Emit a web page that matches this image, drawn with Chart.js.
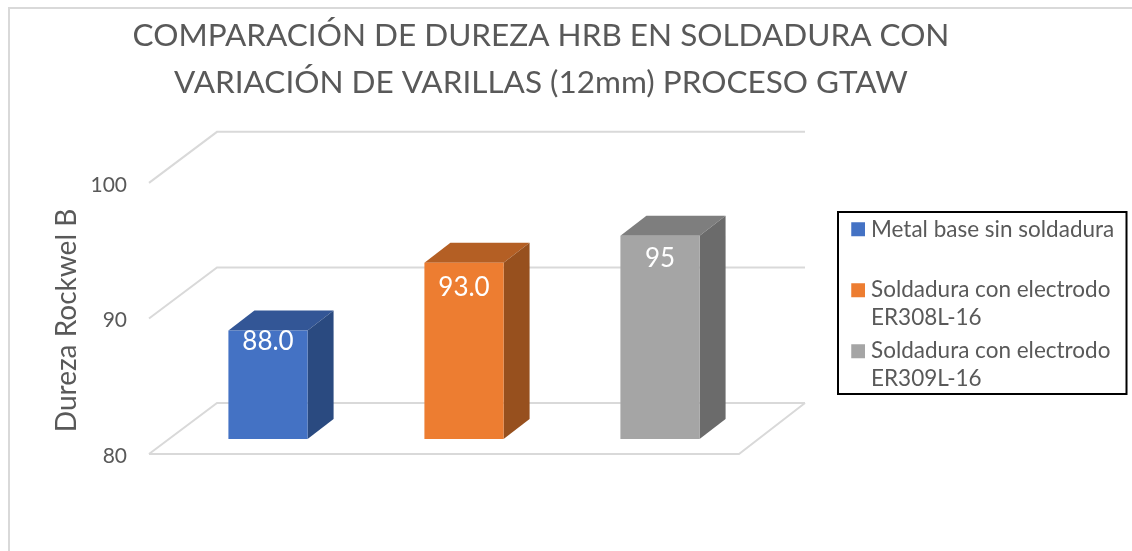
<!DOCTYPE html>
<html>
<head>
<meta charset="utf-8">
<style>
  html, body { margin: 0; padding: 0; background: #fff; overflow: hidden; }
</style>
<script src="https://cdn.jsdelivr.net/npm/chart.js@4"></script>
</head>
<body>
<canvas id="durezaChart" width="1132" height="551"></canvas>
<script>
const categories = [
    ['Metal base sin soldadura', ''],
    ['Soldadura con electrodo', 'ER308L-16'],
    ['Soldadura con electrodo', 'ER309L-16']
];
const durezaValues = [88, 93, 95];
const valueLabels = ['88.0', '93.0', '95'];
const yTicks = [80, 90, 100];
const titleLines = [
    'COMPARACIÓN DE DUREZA HRB EN SOLDADURA CON',
    'VARIACIÓN DE VARILLAS (12mm) PROCESO GTAW'
];

const frontColors = ['#4472c4', '#ed7d31', '#a5a5a5'];
const sideColors = ['#2a4a80', '#97501e', '#6b6b6b'];
const topColors = ['#335696', '#b45f24', '#7e7e7e'];

const fontName = 'Lato, sans-serif';
const textGrey = '#595959';
const gridGrey = '#d9d9d9';

function fillPoly(ctx, color, points) {
    ctx.fillStyle = color;
    ctx.beginPath();
    points.forEach((p, i) => i ? ctx.lineTo(p[0], p[1]) : ctx.moveTo(p[0], p[1]));
    ctx.closePath();
    ctx.fill();
}

function strokePath(ctx, points) {
    ctx.beginPath();
    points.forEach((p, i) => i ? ctx.lineTo(p[0], p[1]) : ctx.moveTo(p[0], p[1]));
    ctx.stroke();
}

// fake 3D: walls, floor and the side/top faces of the bars
const box3d = {
    id: 'box3d',
    beforeDraw(chart) {
        const { ctx } = chart;
        ctx.save();
        ctx.strokeStyle = gridGrey;
        ctx.lineWidth = 2;
        strokePath(ctx, [[9, 551], [9, 8], [1132, 8]]);
        ctx.restore();

        // title, legend and axis title are not placed around the plot in the reference
        chart.titleBlock.left = 0;
        chart.titleBlock.right = 1082;
        chart.legend.left = 851.25;
        chart.legend.right = 1128;
        chart.legend.top = 213;
        chart.scales.y.top = chart.chartArea.top + 34;
    },
    beforeDatasetsDraw(chart) {
        const { ctx, chartArea } = chart;
        const yScale = chart.scales.y;
        const frontLeft = chartArea.left - 21;
        const frontRight = chartArea.right - 19;
        const backLeft = frontLeft + 68;
        const backRight = frontRight + 66;
        const baseY = yScale.getPixelForValue(yTicks[0]);

        ctx.save();
        ctx.strokeStyle = gridGrey;
        ctx.lineWidth = 2;
        yTicks.forEach(tick => {
            const frontY = yScale.getPixelForValue(tick) + 15;
            const backY = frontY - 51;
            strokePath(ctx, [[frontLeft, frontY], [backLeft, backY], [backRight, backY]]);
        });
        const floorY = baseY + 15;
        strokePath(ctx, [[frontLeft, floorY], [frontRight, floorY], [backRight, floorY - 51]]);

        chart.getDatasetMeta(0).data.forEach((bar, i) => {
            const left = bar.x - bar.width / 2;
            const right = bar.x + bar.width / 2;
            fillPoly(ctx, topColors[i], [[left, bar.y], [left + 26, bar.y - 20], [right + 26, bar.y - 20], [right, bar.y]]);
            fillPoly(ctx, sideColors[i], [[right, bar.y], [right + 26, bar.y - 20], [right + 26, baseY - 20], [right, baseY]]);
        });
        ctx.restore();
    },
    afterDatasetsDraw(chart) {
        const { ctx } = chart;
        const labelDrop = [11, 25, 23];
        ctx.save();
        ctx.fillStyle = '#fff';
        ctx.font = '26px ' + fontName;
        ctx.textAlign = 'center';
        ctx.textBaseline = 'middle';
        chart.getDatasetMeta(0).data.forEach((bar, i) => {
            ctx.fillText(valueLabels[i], bar.x, bar.y + labelDrop[i]);
        });
        ctx.restore();
    },
    afterDraw(chart) {
        const { ctx } = chart;
        ctx.save();
        ctx.strokeStyle = '#000';
        ctx.lineWidth = 2;
        ctx.strokeRect(838, 212, 288.5, 182);
        ctx.restore();
    }
};

new Chart(document.getElementById('durezaChart'), {
    type: 'bar',
    data: {
        labels: categories,
        datasets: [{
            data: durezaValues,
            backgroundColor: frontColors,
            barPercentage: 0.404,
            categoryPercentage: 1
        }]
    },
    options: {
        responsive: false,
        animation: false,
        layout: { padding: { left: 50, right: 138, top: 0, bottom: 112 } },
        scales: {
            x: { display: false },
            y: {
                min: 80,
                max: 100,
                afterBuildTicks(scale) {
                    scale.ticks = yTicks.map(value => ({ value }));
                },
                afterFit(scale) {
                    scale.width = 120;
                },
                grid: { display: false },
                border: { display: false },
                ticks: {
                    color: textGrey,
                    font: { family: fontName, size: 21 },
                    labelOffset: 17,
                    padding: 35
                },
                title: {
                    display: true,
                    text: 'Dureza Rockwel B',
                    color: textGrey,
                    font: { family: fontName, size: 28 },
                    padding: 0
                }
            }
        },
        plugins: {
            tooltip: { enabled: false },
            title: {
                display: true,
                text: titleLines,
                color: textGrey,
                font: { family: fontName, size: 31.5, weight: 'normal', lineHeight: 1.49 },
                padding: { top: 12, bottom: 62 }
            },
            legend: {
                display: true,
                position: 'right',
                align: 'start',
                labels: {
                    color: textGrey,
                    font: { family: fontName, size: 22.5, lineHeight: 1.244 },
                    // small box + thick border gives a 14px swatch closer to the text
                    boxWidth: 3.5,
                    boxHeight: 3.5,
                    padding: 5,
                    generateLabels() {
                        return categories.map((text, i) => ({
                            text,
                            fillStyle: frontColors[i],
                            strokeStyle: frontColors[i],
                            lineWidth: 10.5,
                            fontColor: textGrey,
                            index: i
                        }));
                    }
                }
            }
        }
    },
    plugins: [box3d]
});
</script>
</body>
</html>
